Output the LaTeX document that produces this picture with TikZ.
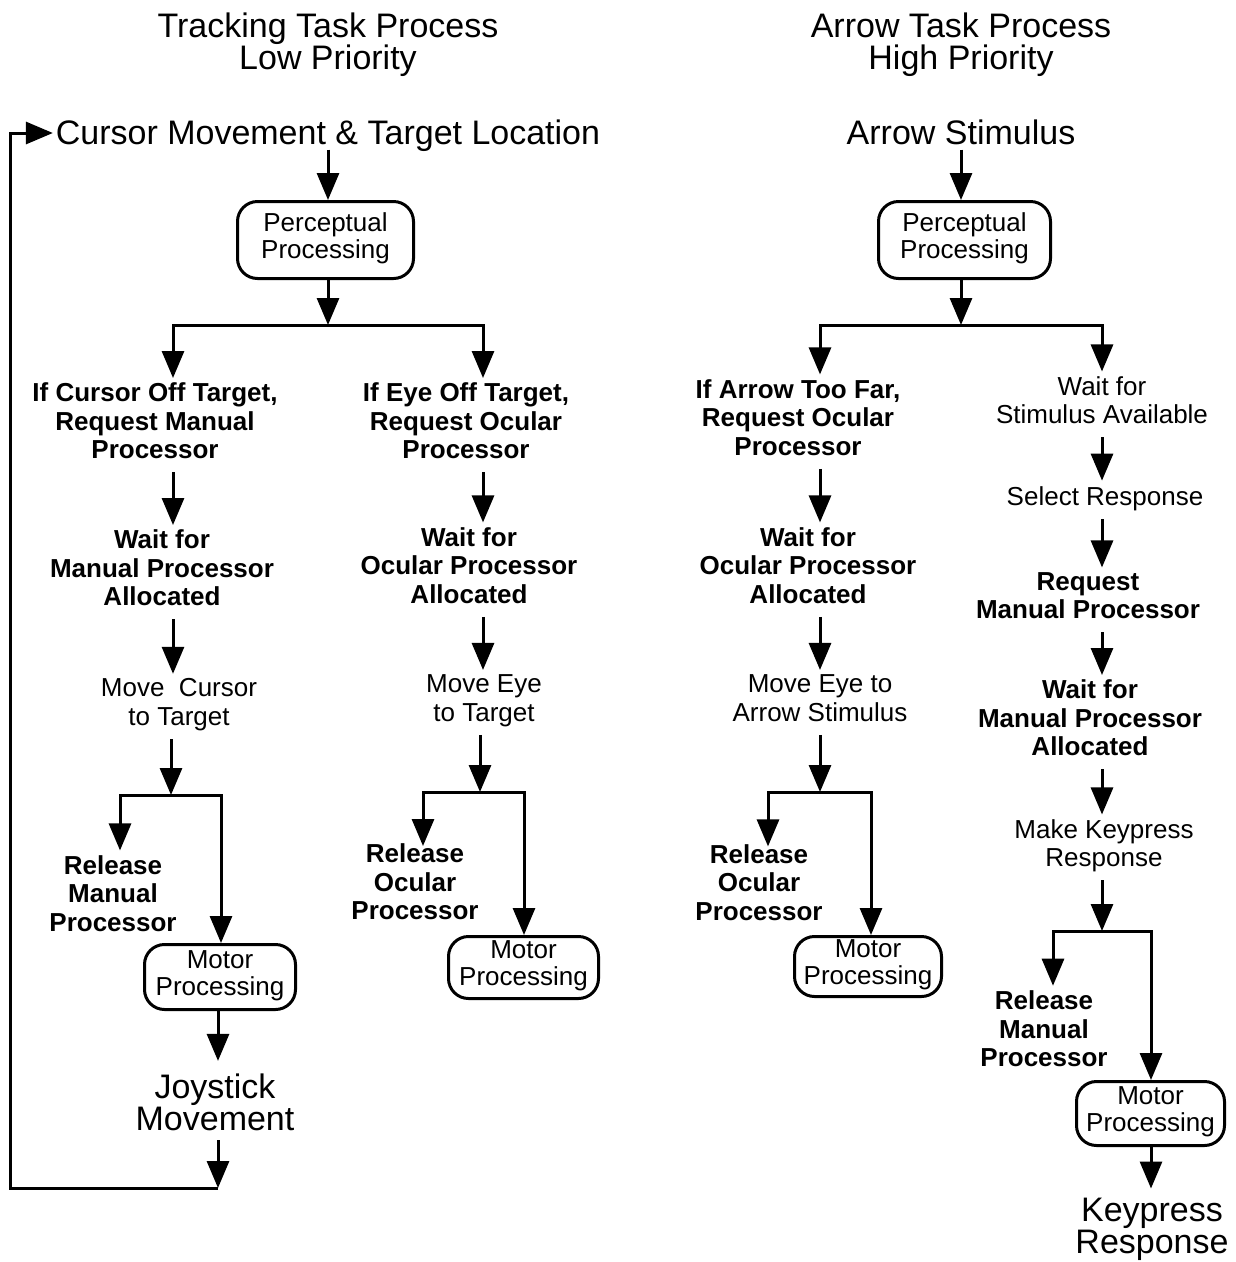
\documentclass[tikz,border=0pt]{standalone}
\usepackage{fontspec}
\setmainfont{Liberation Sans}
\usetikzlibrary{arrows.meta}
\begin{document}
\begin{tikzpicture}[x=1pt,y=-1pt,
  line/.style={line width=3pt, line join=miter},
  arr/.style={line, -{Triangle[length=27pt,width=22pt]}},
  small/.style={font=\fontsize{26}{28.5}\selectfont, align=center, inner sep=0pt, outer sep=5pt,
    execute at begin node=\strut, execute at end node=\strut},
  smallb/.style={small, font=\fontsize{26}{28.5}\selectfont\bfseries},
  big/.style={font=\fontsize{34}{32}\selectfont, align=center, inner sep=0pt, outer sep=0pt,
    execute at begin node=\strut, execute at end node=\strut},
  proc/.style={draw, line width=3pt, rounded corners=20pt, font=\fontsize{26}{27}\selectfont,
    align=center, inner sep=0pt, execute at begin node=\rule{0pt}{28.5pt}, execute at end node=\strut}]
\useasboundingbox (0,0) rectangle (1236,1262);
% titles
\node[big] (t1) at (328,45.5) {Tracking Task Process\\Low Priority};
\node[big] (t2) at (961,45.5) {Arrow Task Process\\High Priority};
\node[big] (T1) at (328,136.5) {Cursor Movement \& Target Location};
\node[big] (T2) at (961,136.5) {Arrow Stimulus};
\node[proc, minimum width=176pt, minimum height=77pt] (P1) at (325.5,240) {Perceptual\\Processing};
\node[proc, minimum width=172pt, minimum height=77pt] (P2) at (964.5,240) {Perceptual\\Processing};
\coordinate (br1) at (328,325);
\coordinate (br4) at (961,325);
% left column
\node[smallb] (L1) at (155,425.2) {If Cursor Off Target,\\Request Manual\\Processor};
\node[smallb] (L2) at (162,572.2) {Wait for\\Manual Processor\\Allocated};
\node[small] (L3) at (179,706.4) {Move~ Cursor\\to Target};
\coordinate (br2) at (171,795);
\node[smallb] (L4) at (113,897.6) {Release\\Manual\\Processor};
\node[proc, minimum width=151pt, minimum height=65pt] (M1) at (220,977) {Motor\\Processing};
\node[big] (J) at (215,1107) {Joystick\\Movement};
\coordinate (fb1) at (218,1188);
\coordinate (fb2) at (10,1188);
\coordinate (fb3) at (10,133);
% middle column
\node[smallb] (O1) at (466,425.2) {If Eye Off Target,\\Request Ocular\\Processor};
\node[smallb] (O2) at (469,569.6) {Wait for\\Ocular Processor\\Allocated};
\node[small] (O3) at (484,702.4) {Move Eye\\to Target};
\coordinate (br3) at (480,792);
\node[smallb] (O4) at (415,886.2) {Release\\Ocular\\Processor};
\node[proc, minimum width=150pt, minimum height=62pt] (M2) at (523.5,967.5) {Motor\\Processing};
% arrow task, left
\node[smallb] (A1) at (798,421.6) {If Arrow Too Far,\\Request Ocular\\Processor};
\node[smallb] (A2) at (808,569.6) {Wait for\\Ocular Processor\\Allocated};
\node[small] (A3) at (820,702.4) {Move Eye to\\Arrow Stimulus};
\coordinate (br5) at (820,792);
\node[smallb] (A4) at (759,886.6) {Release\\Ocular\\Processor};
\node[proc, minimum width=147pt, minimum height=60pt] (M3) at (868,966.5) {Motor\\Processing};
% arrow task, right
\node[small] (B1) at (1102,404.4) {Wait for\\Stimulus Available};
\node[small] (B2) at (1105,499.9) {Select Response};
\node[smallb] (B3) at (1088,599.9) {Request\\Manual Processor};
\node[smallb] (B4) at (1090,722.2) {Wait for\\Manual Processor\\Allocated};
\node[small] (B5) at (1104,847.4) {Make Keypress\\Response};
\coordinate (br6) at (1102,931);
\node[smallb] (B6) at (1044,1032.9) {Release\\Manual\\Processor};
\node[proc, minimum width=148pt, minimum height=64pt] (M4) at (1150.5,1113.5) {Motor\\Processing};
\node[big] (K) at (1152,1231) {Keypress\\Response};
% connectors: tracking task
\draw[arr, shorten <=-4pt] (T1.south -| 328,0) -- (P1.north -| 328,0);
\draw[arr] (P1.south -| 328,0) -- (br1);
\draw[arr] (br1) -| (L1.north -| 173,0);
\draw[arr] (br1) -| (O1.north -| 483,0);
\draw[arr] (L1.south -| 173,0) -- (L2.north -| 173,0);
\draw[arr] (L2.south -| 173,0) -- (L3.north -| 173,0);
\draw[arr] (L3.south -| 171,0) -- (br2);
\draw[arr] (br2) -| (L4.north -| 120,0);
\draw[arr] (br2) -| (M1.north -| 221,0);
\draw[arr, shorten >=13pt] (M1.south -| 218,0) -- (J.north -| 218,0);
\draw[arr] (J.south -| 218,0) -- (fb1);
\draw[arr, shorten >=3pt] (fb1) -- (fb2) -- (fb3) -- (T1.west |- fb3);
\draw[arr] (O1.south -| 483,0) -- (O2.north -| 483,0);
\draw[arr] (O2.south -| 483,0) -- (O3.north -| 483,0);
\draw[arr] (O3.south -| 480,0) -- (br3);
\draw[arr, shorten >=-7pt] (br3) -| (O4.north -| 423,0);
\draw[arr] (br3) -| (M2.north -| 524,0);
% connectors: arrow task
\draw[arr, shorten <=-4pt] (T2.south -| 961,0) -- (P2.north -| 961,0);
\draw[arr] (P2.south -| 961,0) -- (br4);
\draw[arr] (br4) -| (A1.north -| 820,0);
\draw[arr] (br4) -| (B1.north -| 1102,0);
\draw[arr] (A1.south -| 820,0) -- (A2.north -| 820,0);
\draw[arr] (A2.south -| 820,0) -- (A3.north -| 820,0);
\draw[arr] (A3.south -| 820,0) -- (br5);
\draw[arr, shorten >=-7pt] (br5) -| (A4.north -| 768,0);
\draw[arr] (br5) -| (M3.north -| 871,0);
\draw[arr] (B1.south -| 1102,0) -- (B2.north -| 1102,0);
\draw[arr] (B2.south -| 1102,0) -- (B3.north -| 1102,0);
\draw[arr] (B3.south -| 1102,0) -- (B4.north -| 1102,0);
\draw[arr] (B4.south -| 1102,0) -- (B5.north -| 1102,0);
\draw[arr] (B5.south -| 1102,0) -- (br6);
\draw[arr] (br6) -| (B6.north -| 1053,0);
\draw[arr] (br6) -| (M4.north -| 1151,0);
\draw[arr, shorten >=10pt] (M4.south -| 1151,0) -- (K.north -| 1151,0);
\end{tikzpicture}
\end{document}
